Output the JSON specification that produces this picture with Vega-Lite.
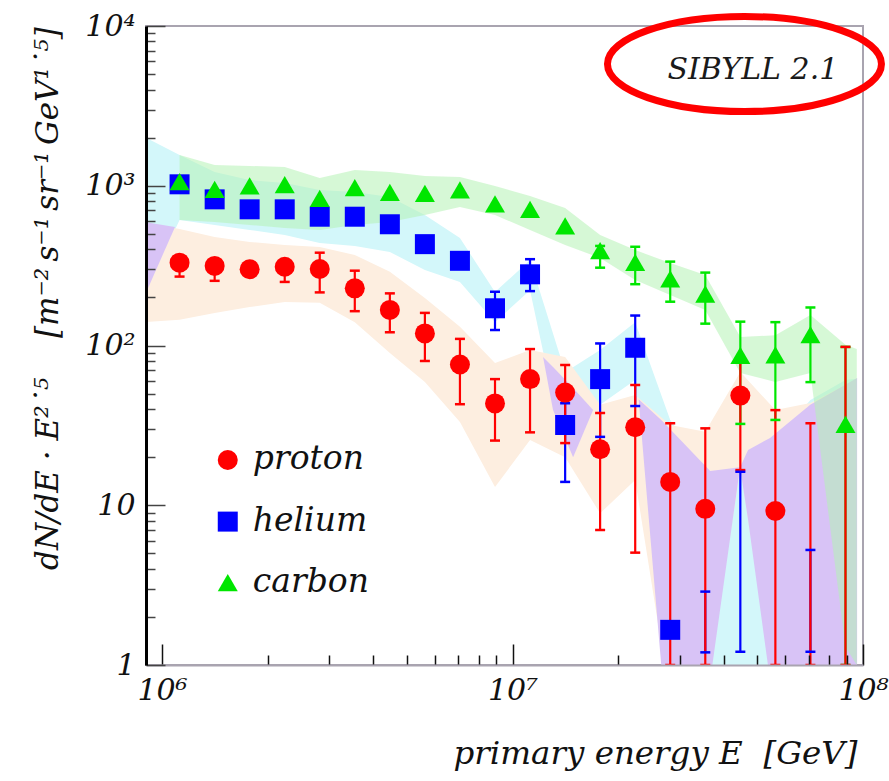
{
  "$schema": "https://vega.github.io/schema/vega-lite/v6.json",
  "width": 717,
  "height": 639,
  "autosize": {"type": "none"},
  "padding": {"left": 146, "top": 26, "right": 26, "bottom": 116},
  "background": "white",
  "config": {
    "view": {"stroke": "#a9a4b0", "strokeWidth": 2},
    "font": "DejaVu Serif"
  },
  "datasets": {
    "points": [
      {"species": "helium", "E": 1122000, "v": 1021},
      {"species": "helium", "E": 1413000, "v": 822},
      {"species": "helium", "E": 1778000, "v": 712},
      {"species": "helium", "E": 2239000, "v": 712},
      {"species": "helium", "E": 2818000, "v": 640},
      {"species": "helium", "E": 3548000, "v": 640},
      {"species": "helium", "E": 4467000, "v": 574},
      {"species": "helium", "E": 5623000, "v": 431},
      {"species": "helium", "E": 7079000, "v": 339},
      {"species": "helium", "E": 8913000, "v": 171},
      {"species": "helium", "E": 11220000, "v": 279},
      {"species": "helium", "E": 14130000, "v": 31.8},
      {"species": "helium", "E": 17780000, "v": 61.6},
      {"species": "helium", "E": 22390000, "v": 96.8},
      {"species": "helium", "E": 28180000, "v": 1.66},
      {"species": "carbon", "E": 1122000, "v": 1061},
      {"species": "carbon", "E": 1413000, "v": 950},
      {"species": "carbon", "E": 1778000, "v": 998},
      {"species": "carbon", "E": 2239000, "v": 1016},
      {"species": "carbon", "E": 2818000, "v": 834},
      {"species": "carbon", "E": 3548000, "v": 973},
      {"species": "carbon", "E": 4467000, "v": 910},
      {"species": "carbon", "E": 5623000, "v": 895},
      {"species": "carbon", "E": 7079000, "v": 942},
      {"species": "carbon", "E": 8913000, "v": 770},
      {"species": "carbon", "E": 11220000, "v": 712},
      {"species": "carbon", "E": 14130000, "v": 561},
      {"species": "carbon", "E": 17780000, "v": 393},
      {"species": "carbon", "E": 22390000, "v": 331},
      {"species": "carbon", "E": 28180000, "v": 261},
      {"species": "carbon", "E": 35480000, "v": 210},
      {"species": "carbon", "E": 44670000, "v": 86.7},
      {"species": "carbon", "E": 56230000, "v": 87.4},
      {"species": "carbon", "E": 70790000, "v": 117},
      {"species": "carbon", "E": 89130000, "v": 32.1},
      {"species": "proton", "E": 1122000, "v": 330},
      {"species": "proton", "E": 1413000, "v": 315},
      {"species": "proton", "E": 1778000, "v": 300},
      {"species": "proton", "E": 2239000, "v": 311},
      {"species": "proton", "E": 2818000, "v": 301},
      {"species": "proton", "E": 3548000, "v": 228},
      {"species": "proton", "E": 4467000, "v": 167},
      {"species": "proton", "E": 5623000, "v": 119},
      {"species": "proton", "E": 7079000, "v": 76},
      {"species": "proton", "E": 8913000, "v": 43.4},
      {"species": "proton", "E": 11220000, "v": 61.6},
      {"species": "proton", "E": 14130000, "v": 50.7},
      {"species": "proton", "E": 17780000, "v": 22.4},
      {"species": "proton", "E": 22390000, "v": 30.8},
      {"species": "proton", "E": 28180000, "v": 14.0},
      {"species": "proton", "E": 35480000, "v": 9.5},
      {"species": "proton", "E": 44670000, "v": 48.6},
      {"species": "proton", "E": 56230000, "v": 9.2}
    ],
    "legendrows": [
      {"species": "proton", "E": 1540000, "v": 19.2},
      {"species": "helium", "E": 1540000, "v": 7.9},
      {"species": "carbon", "E": 1540000, "v": 3.28}
    ],
    "errors": [
      {"species": "helium", "E": 8913000, "lo": 125, "hi": 217},
      {"species": "helium", "E": 11220000, "lo": 219, "hi": 347},
      {"species": "helium", "E": 14130000, "lo": 14.0, "hi": 43.5},
      {"species": "helium", "E": 17780000, "lo": 26.8, "hi": 103},
      {"species": "helium", "E": 22390000, "lo": 41.8, "hi": 154},
      {"species": "helium", "E": 35480000, "lo": 1.2, "hi": 2.88},
      {"species": "helium", "E": 44670000, "lo": 1.21, "hi": 16.2},
      {"species": "helium", "E": 70790000, "lo": 1.21, "hi": 5.25},
      {"species": "carbon", "E": 17780000, "lo": 307, "hi": 420},
      {"species": "carbon", "E": 22390000, "lo": 242, "hi": 415},
      {"species": "carbon", "E": 28180000, "lo": 188, "hi": 335},
      {"species": "carbon", "E": 35480000, "lo": 137, "hi": 286},
      {"species": "carbon", "E": 44670000, "lo": 32.3, "hi": 141},
      {"species": "carbon", "E": 56230000, "lo": 34.2, "hi": 140},
      {"species": "carbon", "E": 70790000, "lo": 59, "hi": 173},
      {"species": "carbon", "E": 89130000, "lo": 1, "hi": 98},
      {"species": "proton", "E": 1122000, "lo": 270, "hi": 355},
      {"species": "proton", "E": 1413000, "lo": 254, "hi": 340},
      {"species": "proton", "E": 1778000, "lo": 280, "hi": 322},
      {"species": "proton", "E": 2239000, "lo": 250, "hi": 340},
      {"species": "proton", "E": 2818000, "lo": 215, "hi": 381},
      {"species": "proton", "E": 3548000, "lo": 164, "hi": 294},
      {"species": "proton", "E": 4467000, "lo": 121, "hi": 212},
      {"species": "proton", "E": 5623000, "lo": 80, "hi": 160},
      {"species": "proton", "E": 7079000, "lo": 42.9, "hi": 110},
      {"species": "proton", "E": 8913000, "lo": 25.4, "hi": 61.6},
      {"species": "proton", "E": 11220000, "lo": 28.6, "hi": 95},
      {"species": "proton", "E": 14130000, "lo": 24.5, "hi": 75.5},
      {"species": "proton", "E": 17780000, "lo": 7.0, "hi": 37.8},
      {"species": "proton", "E": 22390000, "lo": 5.05, "hi": 56.6},
      {"species": "proton", "E": 28180000, "lo": 1, "hi": 32.6},
      {"species": "proton", "E": 35480000, "lo": 1, "hi": 30.3},
      {"species": "proton", "E": 44670000, "lo": 16.6, "hi": 81},
      {"species": "proton", "E": 56230000, "lo": 1, "hi": 39.4},
      {"species": "proton", "E": 70790000, "lo": 1, "hi": 32.6},
      {"species": "proton", "E": 89130000, "lo": 1, "hi": 98}
    ],
    "bands": [
      {"band": "helium", "g": "he", "E": 891300, "lo": 207, "hi": 2018},
      {"band": "helium", "g": "he", "E": 1122000, "lo": 611, "hi": 1558},
      {"band": "helium", "g": "he", "E": 1413000, "lo": 568, "hi": 1219},
      {"band": "helium", "g": "he", "E": 1778000, "lo": 529, "hi": 1086},
      {"band": "helium", "g": "he", "E": 2239000, "lo": 492, "hi": 1040},
      {"band": "helium", "g": "he", "E": 2818000, "lo": 438, "hi": 940},
      {"band": "helium", "g": "he", "E": 3548000, "lo": 420, "hi": 914},
      {"band": "helium", "g": "he", "E": 4467000, "lo": 385, "hi": 851},
      {"band": "helium", "g": "he", "E": 5623000, "lo": 297, "hi": 656},
      {"band": "helium", "g": "he", "E": 7079000, "lo": 250, "hi": 471},
      {"band": "helium", "g": "he", "E": 8913000, "lo": 140, "hi": 216},
      {"band": "helium", "g": "he", "E": 11220000, "lo": 222, "hi": 343},
      {"band": "helium", "g": "he", "E": 14130000, "lo": 20.6, "hi": 68},
      {"band": "helium", "g": "he", "E": 17780000, "lo": 42.5, "hi": 93.7},
      {"band": "helium", "g": "he", "E": 22390000, "lo": 60.8, "hi": 140},
      {"band": "helium", "g": "he", "E": 28180000, "lo": 0.5, "hi": 34.2},
      {"band": "helium", "g": "he", "E": 35480000, "lo": 0.5, "hi": 16.6},
      {"band": "helium", "g": "he", "E": 44670000, "lo": 0.5, "hi": 17.3},
      {"band": "helium", "g": "he", "E": 56230000, "lo": 0.5, "hi": 25.6},
      {"band": "helium", "g": "he", "E": 70790000, "lo": 0.5, "hi": 45.6},
      {"band": "helium", "g": "he", "E": 89130000, "lo": 0.5, "hi": 60.8},
      {"band": "helium", "g": "he", "E": 96000000, "lo": 0.5, "hi": 62},
      {"band": "proton", "g": "p", "E": 891300, "lo": 140, "hi": 584},
      {"band": "proton", "g": "p", "E": 1122000, "lo": 145, "hi": 536},
      {"band": "proton", "g": "p", "E": 1413000, "lo": 160, "hi": 478},
      {"band": "proton", "g": "p", "E": 1778000, "lo": 174, "hi": 445},
      {"band": "proton", "g": "p", "E": 2239000, "lo": 187, "hi": 426},
      {"band": "proton", "g": "p", "E": 2818000, "lo": 185, "hi": 414},
      {"band": "proton", "g": "p", "E": 3548000, "lo": 140, "hi": 369},
      {"band": "proton", "g": "p", "E": 4467000, "lo": 89.8, "hi": 289},
      {"band": "proton", "g": "p", "E": 5623000, "lo": 59, "hi": 198},
      {"band": "proton", "g": "p", "E": 7079000, "lo": 33.2, "hi": 131},
      {"band": "proton", "g": "p", "E": 8913000, "lo": 13.0, "hi": 77.6},
      {"band": "proton", "g": "p", "E": 11220000, "lo": 25.6, "hi": 93.7},
      {"band": "proton", "g": "p", "E": 14130000, "lo": 20, "hi": 84.7},
      {"band": "proton", "g": "p", "E": 17780000, "lo": 8.9, "hi": 42.5},
      {"band": "proton", "g": "p", "E": 22390000, "lo": 14.4, "hi": 49},
      {"band": "proton", "g": "p", "E": 28180000, "lo": 0.6, "hi": 31.8},
      {"band": "proton", "g": "p", "E": 35480000, "lo": 0.6, "hi": 28.8},
      {"band": "proton", "g": "p", "E": 44670000, "lo": 17.3, "hi": 68.2},
      {"band": "proton", "g": "p", "E": 56230000, "lo": 0.6, "hi": 39.4},
      {"band": "proton", "g": "p", "E": 70790000, "lo": 0.6, "hi": 43.7},
      {"band": "proton", "g": "p", "E": 89130000, "lo": 0.6, "hi": 56.6},
      {"band": "proton", "g": "p", "E": 96000000, "lo": 0.6, "hi": 60},
      {"band": "overlap", "g": "A", "E": 891300, "lo": 204, "hi": 593},
      {"band": "overlap", "g": "A", "E": 1089000, "lo": 552, "hi": 552},
      {"band": "overlap", "g": "B", "E": 12220000, "lo": 84.7, "hi": 84.7},
      {"band": "overlap", "g": "B", "E": 13050000, "lo": 39.4, "hi": 73.3},
      {"band": "overlap", "g": "B", "E": 14890000, "lo": 20.0, "hi": 54.2},
      {"band": "overlap", "g": "B", "E": 16980000, "lo": 39.4, "hi": 39.4},
      {"band": "overlap", "g": "C1", "E": 22900000, "lo": 46, "hi": 46},
      {"band": "overlap", "g": "C1", "E": 26800000, "lo": 0.8, "hi": 33.5},
      {"band": "overlap", "g": "C1", "E": 36640000, "lo": 0.8, "hi": 16.4},
      {"band": "overlap", "g": "C1", "E": 44590000, "lo": 17.3, "hi": 17.3},
      {"band": "overlap", "g": "C2", "E": 44590000, "lo": 17.3, "hi": 17.3},
      {"band": "overlap", "g": "C2", "E": 47000000, "lo": 8.1, "hi": 22.2},
      {"band": "overlap", "g": "C2", "E": 54300000, "lo": 0.8, "hi": 26.4},
      {"band": "overlap", "g": "C2", "E": 70700000, "lo": 0.8, "hi": 42.5},
      {"band": "overlap", "g": "C2", "E": 96200000, "lo": 0.8, "hi": 62.7},
      {"band": "carbon", "g": "c", "E": 1122000, "lo": 611, "hi": 1558},
      {"band": "carbon", "g": "c", "E": 1413000, "lo": 593, "hi": 1349},
      {"band": "carbon", "g": "c", "E": 1778000, "lo": 568, "hi": 1330},
      {"band": "carbon", "g": "c", "E": 2239000, "lo": 544, "hi": 1310},
      {"band": "carbon", "g": "c", "E": 2818000, "lo": 529, "hi": 1119},
      {"band": "carbon", "g": "c", "E": 3548000, "lo": 568, "hi": 1256},
      {"band": "carbon", "g": "c", "E": 4467000, "lo": 593, "hi": 1220},
      {"band": "carbon", "g": "c", "E": 5623000, "lo": 656, "hi": 1151},
      {"band": "carbon", "g": "c", "E": 7079000, "lo": 736, "hi": 1135},
      {"band": "carbon", "g": "c", "E": 8913000, "lo": 656, "hi": 996},
      {"band": "carbon", "g": "c", "E": 11220000, "lo": 529, "hi": 863},
      {"band": "carbon", "g": "c", "E": 14130000, "lo": 426, "hi": 726},
      {"band": "carbon", "g": "c", "E": 17780000, "lo": 353, "hi": 492},
      {"band": "carbon", "g": "c", "E": 22390000, "lo": 257, "hi": 396},
      {"band": "carbon", "g": "c", "E": 28180000, "lo": 207, "hi": 328},
      {"band": "carbon", "g": "c", "E": 35480000, "lo": 167, "hi": 276},
      {"band": "carbon", "g": "c", "E": 44670000, "lo": 67.3, "hi": 113},
      {"band": "carbon", "g": "c", "E": 56230000, "lo": 59.1, "hi": 116},
      {"band": "carbon", "g": "c", "E": 70790000, "lo": 67.3, "hi": 155},
      {"band": "carbon", "g": "c", "E": 89130000, "lo": 1.3, "hi": 101},
      {"band": "carbon", "g": "c", "E": 96000000, "lo": 1.0, "hi": 95}
    ],
    "ann": [
      {"E": 45900000, "v": 5781, "t": "SIBYLL 2.1"}
    ],
    "lab": [
      {"E": 48500000, "v": 5304, "t": "SIBYLL 2.1"}
    ]
  },
  "layer": [
    {
      "data": {"name": "bands"},
      "transform": [{"filter": "datum.band == 'helium'"}],
      "mark": {"type": "area", "color": "#d3f7fa", "clip": true, "opacity": 1},
      "encoding": {
        "x": {
          "field": "E", "type": "quantitative",
          "scale": {"type": "log", "domain": [900000, 100000000], "nice": false},
          "axis": {
            "zindex": 1,
            "values": [1000000, 2000000, 3000000, 4000000, 5000000, 6000000, 7000000, 8000000, 9000000, 10000000, 20000000, 30000000, 40000000, 50000000, 60000000, 70000000, 80000000, 90000000, 100000000],
            "labelExpr": "datum.value == 1000000 ? '10⁶' : datum.value == 10000000 ? '10⁷' : datum.value == 100000000 ? '10⁸' : ''",
            "labelFont": "DejaVu Serif", "labelFontStyle": "italic", "labelFontSize": 30, "labelColor": "#111",
            "labelFlush": false, "labelOverlap": false, "labelBaseline": "top",
            "tickSize": {"condition": {"test": "datum.value == 1000000 || datum.value == 10000000 || datum.value == 100000000", "value": -21}, "value": -10},
            "labelPadding": {"condition": {"test": "datum.value == 1000000 || datum.value == 10000000 || datum.value == 100000000", "value": 31}, "value": 20},
            "tickColor": "#111", "tickWidth": 1.5,
            "domainColor": "#a9a4b0", "domainWidth": 2,
            "grid": false,
            "title": "primary energy E\u00a0\u00a0[GeV]",
            "titleFont": "DejaVu Serif", "titleFontStyle": "italic", "titleFontWeight": "normal", "titleFontSize": 32.5, "titleColor": "#111",
            "titleAnchor": "end", "titleAlign": "right", "titleBaseline": "alphabetic",
            "titleX": 711, "titleY": 98
          }
        },
        "y": {
          "field": "hi", "type": "quantitative",
          "scale": {"type": "log", "domain": [1, 10000], "nice": false},
          "axis": {
            "zindex": 1,
            "values": [1, 2, 3, 4, 5, 6, 7, 8, 9, 10, 20, 30, 40, 50, 60, 70, 80, 90, 100, 200, 300, 400, 500, 600, 700, 800, 900, 1000, 2000, 3000, 4000, 5000, 6000, 7000, 8000, 9000, 10000],
            "labelExpr": "datum.value == 1 ? '1' : datum.value == 10 ? '10' : datum.value == 100 ? '10²' : datum.value == 1000 ? '10³' : datum.value == 10000 ? '10⁴' : ''",
            "labelFont": "DejaVu Serif", "labelFontStyle": "italic", "labelFontSize": 30, "labelColor": "#111",
            "labelFlush": false, "labelOverlap": false, "labelAlign": "right", "labelBaseline": "middle",
            "tickSize": {"condition": {"test": "datum.value == 1 || datum.value == 10 || datum.value == 100 || datum.value == 1000 || datum.value == 10000", "value": -19}, "value": -9},
            "labelPadding": {"condition": {"test": "datum.value == 1 || datum.value == 10 || datum.value == 100 || datum.value == 1000 || datum.value == 10000", "value": 30}, "value": 20},
            "tickColor": "#444", "tickWidth": 1.5,
            "domainColor": "#000000", "domainWidth": 3,
            "grid": false,
            "title": "dN/dE · E²˙⁵\u00a0\u00a0\u00a0\u00a0[m⁻²\u2009s⁻¹\u2009sr⁻¹\u2009GeV¹˙⁵]",
            "titleFont": "DejaVu Serif", "titleFontStyle": "italic", "titleFontWeight": "normal", "titleFontSize": 31, "titleColor": "#111",
            "titleAngle": 270, "titleAlign": "center", "titleBaseline": "middle",
            "titleX": -98, "titleY": 272
          }
        },
        "y2": {"field": "lo"}
      }
    },
    {
      "data": {"name": "bands"},
      "transform": [{"filter": "datum.band == 'proton'"}],
      "mark": {"type": "area", "color": "#fdeee0", "clip": true, "opacity": 1},
      "encoding": {
        "x": {"field": "E", "type": "quantitative", "scale": {"type": "log", "domain": [900000, 100000000], "nice": false}},
        "y": {"field": "hi", "type": "quantitative", "scale": {"type": "log", "domain": [1, 10000], "nice": false}},
        "y2": {"field": "lo"}
      }
    },
    {
      "data": {"name": "bands"},
      "transform": [{"filter": "datum.band == 'overlap'"}],
      "mark": {"type": "area", "color": "#d8c3f6", "clip": true, "opacity": 1},
      "encoding": {
        "x": {"field": "E", "type": "quantitative", "scale": {"type": "log", "domain": [900000, 100000000], "nice": false}},
        "y": {"field": "hi", "type": "quantitative", "scale": {"type": "log", "domain": [1, 10000], "nice": false}},
        "y2": {"field": "lo"},
        "detail": {"field": "g", "type": "nominal"}
      }
    },
    {
      "data": {"name": "bands"},
      "transform": [{"filter": "datum.band == 'carbon'"}],
      "mark": {"type": "area", "color": "#b4f2b4", "clip": true, "opacity": 0.55},
      "encoding": {
        "x": {"field": "E", "type": "quantitative", "scale": {"type": "log", "domain": [900000, 100000000], "nice": false}},
        "y": {"field": "hi", "type": "quantitative", "scale": {"type": "log", "domain": [1, 10000], "nice": false}},
        "y2": {"field": "lo"}
      }
    },
    {
      "data": {"name": "errors"},
      "mark": {"type": "rule", "strokeWidth": 2.2, "clip": true},
      "encoding": {
        "x": {"field": "E", "type": "quantitative", "scale": {"type": "log", "domain": [900000, 100000000], "nice": false}},
        "y": {"field": "lo", "type": "quantitative", "scale": {"type": "log", "domain": [1, 10000], "nice": false}},
        "y2": {"field": "hi"},
        "stroke": {"field": "species", "type": "nominal", "scale": {"domain": ["proton", "helium", "carbon"], "range": ["#ff0000", "#0000ff", "#00e600"]}, "legend": null}
      }
    },
    {
      "data": {"name": "errors"},
      "mark": {"type": "point", "shape": "M-1,0L1,0", "filled": false, "size": 100, "strokeWidth": 2.5, "opacity": 1, "clip": true},
      "encoding": {
        "x": {"field": "E", "type": "quantitative", "scale": {"type": "log", "domain": [900000, 100000000], "nice": false}},
        "y": {"field": "lo", "type": "quantitative", "scale": {"type": "log", "domain": [1, 10000], "nice": false}},
        "stroke": {"field": "species", "type": "nominal", "scale": {"domain": ["proton", "helium", "carbon"], "range": ["#ff0000", "#0000ff", "#00e600"]}, "legend": null}
      }
    },
    {
      "data": {"name": "errors"},
      "mark": {"type": "point", "shape": "M-1,0L1,0", "filled": false, "size": 100, "strokeWidth": 2.5, "opacity": 1, "clip": true},
      "encoding": {
        "x": {"field": "E", "type": "quantitative", "scale": {"type": "log", "domain": [900000, 100000000], "nice": false}},
        "y": {"field": "hi", "type": "quantitative", "scale": {"type": "log", "domain": [1, 10000], "nice": false}},
        "stroke": {"field": "species", "type": "nominal", "scale": {"domain": ["proton", "helium", "carbon"], "range": ["#ff0000", "#0000ff", "#00e600"]}, "legend": null}
      }
    },
    {
      "data": {"name": "points"},
      "mark": {"type": "point", "filled": true, "size": 400, "opacity": 1},
      "encoding": {
        "x": {"field": "E", "type": "quantitative", "scale": {"type": "log", "domain": [900000, 100000000], "nice": false}},
        "y": {"field": "v", "type": "quantitative", "scale": {"type": "log", "domain": [1, 10000], "nice": false}},
        "color": {
          "field": "species", "type": "nominal",
          "scale": {"domain": ["proton", "helium", "carbon"], "range": ["#ff0000", "#0000ff", "#00e600"]},
          "legend": null
        },
        "shape": {
          "field": "species", "type": "nominal",
          "scale": {"domain": ["proton", "helium", "carbon"], "range": ["circle", "square", "triangle-up"]},
          "legend": null
        }
      }
    },
    {
      "data": {"name": "legendrows"},
      "mark": {"type": "point", "filled": true, "size": 400, "opacity": 1},
      "encoding": {
        "x": {"field": "E", "type": "quantitative", "scale": {"type": "log", "domain": [900000, 100000000], "nice": false}},
        "y": {"field": "v", "type": "quantitative", "scale": {"type": "log", "domain": [1, 10000], "nice": false}},
        "color": {"field": "species", "type": "nominal", "scale": {"domain": ["proton", "helium", "carbon"], "range": ["#ff0000", "#0000ff", "#00e600"]}, "legend": null},
        "shape": {"field": "species", "type": "nominal", "scale": {"domain": ["proton", "helium", "carbon"], "range": ["circle", "square", "triangle-up"]}, "legend": null}
      }
    },
    {
      "data": {"name": "legendrows"},
      "mark": {"type": "text", "font": "DejaVu Serif", "fontStyle": "italic", "fontSize": 33, "color": "#111", "align": "left", "baseline": "alphabetic", "dx": 25, "dy": 9},
      "encoding": {
        "x": {"field": "E", "type": "quantitative", "scale": {"type": "log", "domain": [900000, 100000000], "nice": false}},
        "y": {"field": "v", "type": "quantitative", "scale": {"type": "log", "domain": [1, 10000], "nice": false}},
        "text": {"field": "species"}
      }
    },
    {
      "data": {"name": "ann"},
      "mark": {"type": "point", "shape": "M-1,0A1,0.347,0,1,0,1,0A1,0.347,0,1,0,-1,0Z", "filled": false, "size": 75076, "stroke": "#ff0000", "strokeWidth": 7, "opacity": 1, "clip": false},
      "encoding": {
        "x": {"field": "E", "type": "quantitative", "scale": {"type": "log", "domain": [900000, 100000000], "nice": false}},
        "y": {"field": "v", "type": "quantitative", "scale": {"type": "log", "domain": [1, 10000], "nice": false}}
      }
    },
    {
      "data": {"name": "lab"},
      "mark": {"type": "text", "font": "DejaVu Serif", "fontStyle": "italic", "fontSize": 30, "color": "#1a1a1a", "align": "center", "baseline": "middle"},
      "encoding": {
        "x": {"field": "E", "type": "quantitative", "scale": {"type": "log", "domain": [900000, 100000000], "nice": false}},
        "y": {"field": "v", "type": "quantitative", "scale": {"type": "log", "domain": [1, 10000], "nice": false}},
        "text": {"field": "t"}
      }
    }
  ]
}
